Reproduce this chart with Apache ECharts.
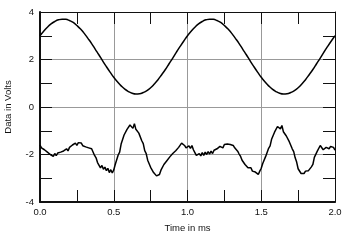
<!DOCTYPE html>
<html><head><meta charset="utf-8">
<script src="https://cdn.jsdelivr.net/npm/echarts@6/dist/echarts.min.js"></script>
<style>html,body{margin:0;padding:0;background:#fff}#c{width:350px;height:246px}</style>
</head><body><div id="c"></div>
<script>
var xTickLabels = ['0.0','0.5','1.0','1.5','2.0'];
var yTickLabels = ['-4','-2','0','2','4'];
var xAxisTitle = 'Time in ms';
var yAxisTitle = 'Data in Volts';
// top trace, step 0.025 ms
var topStep = 0.025;
var topValues = [3.00,3.19,3.36,3.50,3.60,3.67,3.70,3.69,3.64,3.56,3.43,3.28,3.10,2.89,2.67,2.43,2.19,1.94,1.70,1.47,1.25,1.06,0.89,0.75,0.65,0.58,0.55,0.56,0.61,0.69,0.81,0.97,1.15,1.36,1.58,1.82,2.06,2.31,2.55,2.78,
3.00,3.19,3.36,3.50,3.60,3.67,3.70,3.69,3.64,3.56,3.43,3.28,3.10,2.89,2.67,2.43,2.19,1.94,1.70,1.47,1.25,1.06,0.89,0.75,0.65,0.58,0.55,0.56,0.61,0.69,0.81,0.97,1.15,1.36,1.58,1.82,2.06,2.31,2.55,2.78,3.00];
// bottom trace, step 0.01 ms
var botStep = 0.01;
var botValues = [-1.60,-1.72,-1.66,-1.80,-1.74,-1.90,-1.84,-2.00,-1.93,-2.08,
-1.96,-2.05,-1.94,-2.02,-1.90,-1.98,-1.85,-1.92,-1.76,-1.85,
-1.70,-1.78,-1.60,-1.68,-1.52,-1.62,-1.50,-1.58,-1.52,-1.63,
-1.56,-1.68,-1.62,-1.72,-1.68,-1.76,-1.82,-2.04,-2.14,-2.34,
-2.36,-2.56,-2.46,-2.62,-2.53,-2.68,-2.58,-2.76,-2.64,-2.78,
-2.65,-2.42,-2.34,-2.02,-1.90,-1.56,-1.48,-1.18,-1.16,-0.94,
-0.96,-0.76,-0.70,-0.90,-0.70,-0.94,-0.92,-1.10,-1.16,-1.42,
-1.54,-1.84,-1.96,-2.24,-2.32,-2.54,-2.56,-2.76,-2.80,-2.90,
-2.88,-2.84,-2.66,-2.62,-2.42,-2.44,-2.26,-2.26,-2.10,-2.10,
-1.96,-1.94,-1.84,-1.82,-1.70,-1.68,-1.52,-1.45,-1.62,-1.72,
-1.78,-1.64,-1.74,-1.62,-1.80,-1.92,-2.04,-2.10,-1.96,-2.06,
-1.92,-2.04,-1.90,-2.00,-1.88,-1.98,-1.86,-1.96,-1.82,-1.90,
-1.76,-1.84,-1.66,-1.60,-1.72,-1.58,-1.66,-1.56,-1.64,-1.58,
-1.66,-1.62,-1.72,-1.76,-1.86,-1.98,-2.08,-2.24,-2.26,-2.42,
-2.42,-2.56,-2.62,-2.56,-2.70,-2.62,-2.74,-2.68,-2.84,-2.70,
-2.58,-2.38,-2.34,-2.08,-2.04,-1.74,-1.64,-1.36,-1.28,-1.06,
-1.02,-0.82,-0.80,-0.92,-0.78,-1.04,-1.06,-1.22,-1.26,-1.46,
-1.50,-1.76,-1.88,-2.14,-2.32,-2.60,-2.66,-2.80,-2.72,-2.80,
-2.70,-2.78,-2.68,-2.74,-2.52,-2.42,-2.12,-2.04,-1.86,-1.80,
-1.62,-1.58,-1.80,-1.88,-1.70,-1.64,-1.76,-1.66,-1.74,-1.70,
-1.82];

function pairs(vals, step){ return vals.map(function(v,i){ return [+(i*step).toFixed(4), v]; }); }

var font = 'Liberation Sans, Arial, sans-serif';
var ink = '#111';
function xAx(pos, showLab){
  return {type:'value', position:pos, min:0, max:2, interval:0.5,
    axisLine:{show:true, onZero:false, lineStyle:{color:ink, width: pos==='bottom'?2:1}},
    axisTick:{show:true, inside:true, length:12, lineStyle:{color:ink}},
    minorTick:{show:true, splitNumber:2, length:12, lineStyle:{color:ink}},
    splitLine:{show:pos==='bottom', lineStyle:{color:'#999', width:1}},
    axisLabel:{show:showLab, margin:5, fontSize:9.5, color:ink, fontFamily:font,
      formatter:function(v){ var i = Math.round(v/0.5); return xTickLabels[i]; }},
    name: showLab? xAxisTitle : '', nameLocation:'middle', nameGap:21,
    nameTextStyle:{fontSize:9.5, color:ink, fontFamily:font}
  };
}
function yAx(pos, showLab){
  return {type:'value', position:pos, min:-4, max:4, interval:2,
    axisLine:{show:true, onZero:false, lineStyle:{color:ink, width: pos==='left'?2:1}},
    axisTick:{show:true, inside:true, length:12, lineStyle:{color:ink}},
    minorTick:{show:true, splitNumber:2, length:12, lineStyle:{color:ink}},
    splitLine:{show:pos==='left', lineStyle:{color:'#999', width:1}},
    axisLabel:{show:showLab, margin:6, fontSize:9.5, color:ink, fontFamily:font,
      formatter:function(v){ var i = Math.round((v+4)/2); return yTickLabels[i]; }},
    name: showLab? yAxisTitle : '', nameLocation:'middle', nameGap:27,
    nameTextStyle:{fontSize:9.5, color:ink, fontFamily:font}
  };
}
var chart = echarts.init(document.getElementById('c'), null, {renderer:'canvas'});
chart.setOption({
  animation:false,
  backgroundColor:'#fff',
  grid:{left:40, right:15, top:12, bottom:44, containLabel:false, outerBoundsMode:'none'},
  xAxis:[xAx('bottom', true), xAx('top', false)],
  yAxis:[yAx('left', true), yAx('right', false)],
  series:[
    {type:'line', data:pairs(topValues, topStep), smooth:true, symbol:'none', lineStyle:{color:'#000', width:1.5}},
    {type:'line', data:pairs(botValues, botStep), symbol:'none', lineStyle:{color:'#000', width:1.5}}
  ]
});
</script></body></html>
